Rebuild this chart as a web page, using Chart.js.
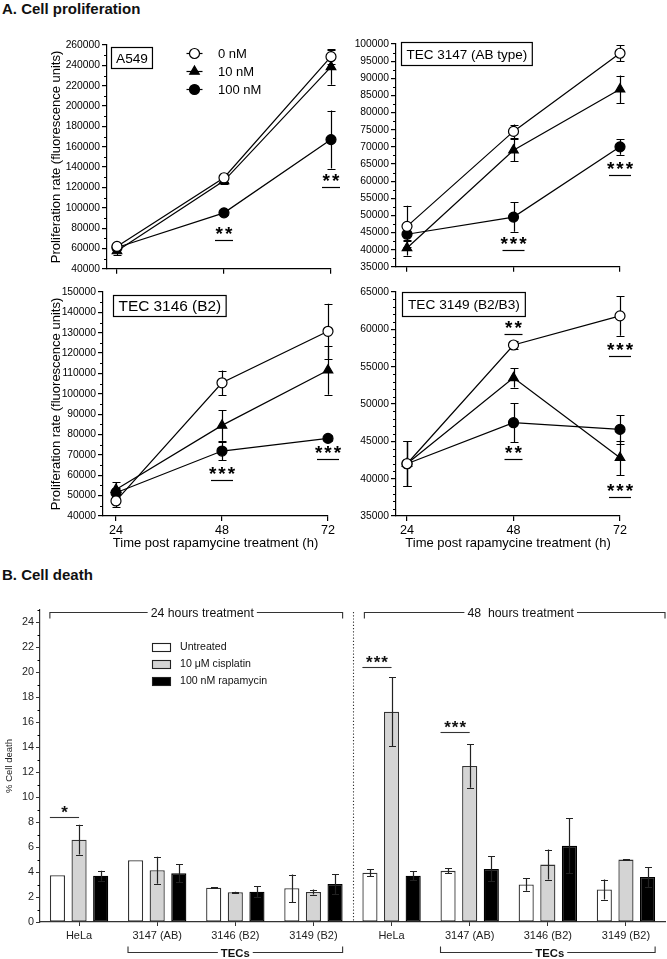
<!DOCTYPE html>
<html>
<head>
<meta charset="utf-8">
<script src="https://cdn.jsdelivr.net/npm/chart.js@4.4.1/dist/chart.umd.min.js"></script>
<style>
  body { margin: 0; background: #fff; width: 667px; height: 959px; position: relative; overflow: hidden;
         font-family: "Liberation Sans", Arial, sans-serif; }
  .head { position: absolute; left: 2px; font-weight: bold; font-size: 15px; color: #111; }
</style>
</head>
<body>
<div class="head" style="top:0px">A. Cell proliferation</div>
<div class="head" style="top:566px">B. Cell death</div>
<script>
// ---- A. proliferation data (fluorescence units) ----
const hours = [24, 48, 72];
const doseLabels = ['0 nM', '10 nM', '100 nM'];

const a549Nm0 = [62000, 129500, 248500];
const a549Nm0Err = [2500, 4000, 7000];
const a549Nm10 = [57500, 126500, 238500];
const a549Nm10Err = [4000, 3000, 17500];
const a549Nm100 = [61000, 95000, 167000];
const a549Nm100Err = [2000, 2500, 28500];
const a549Stars = [[48, 79000, '**'], [72, 131000, '**']];

const tec3147Nm0 = [46800, 74500, 97300];
const tec3147Nm0Err = [6000, 2000, 2300];
const tec3147Nm10 = [40500, 69000, 86800];
const tec3147Nm10Err = [2200, 3200, 4000];
const tec3147Nm100 = [44500, 49500, 70000];
const tec3147Nm100Err = [2000, 4300, 2300];
const tec3147Stars = [[48, 43000, '***'], [72, 65000, '***']];

const tec3146Nm0 = [47400, 105400, 130700];
const tec3146Nm0Err = [3000, 6000, 13500];
const tec3146Nm10 = [53000, 84500, 111600];
const tec3146Nm10Err = [3500, 7500, 12000];
const tec3146Nm100 = [51400, 71900, 78100];
const tec3146Nm100Err = [2500, 4500, 1500];
const tec3146Stars = [[48, 63000, '***'], [72, 73200, '***']];

const tec3149Nm0 = [42000, 57900, 61800];
const tec3149Nm0Err = [3000, 600, 2650];
const tec3149Nm10 = [42000, 53500, 42800];
const tec3149Nm10Err = [3000, 1300, 2300];
const tec3149Nm100 = [42000, 47500, 46600];
const tec3149Nm100Err = [3000, 2600, 1900];
const tec3149Stars = [[48, 60800, '**'], [48, 44100, '**'], [72, 57900, '***'], [72, 39000, '***']];

// ---- B. cell death data (%) ----
const cellLines = ['HeLa', '3147 (AB)', '3146 (B2)', '3149 (B2)', 'HeLa', '3147 (AB)', '3146 (B2)', '3149 (B2)'];
const treatments = ['Untreated', '10 \u03BCM cisplatin', '100 nM rapamycin'];
const untreated = [3.75, 4.95, 2.75, 2.7, 3.95, 4.1, 3.0, 2.6];
const untreatedErr = [0, 0, 0.05, 1.1, 0.3, 0.2, 0.5, 0.8];
const cisplatin = [6.6, 4.15, 2.38, 2.4, 16.85, 12.5, 4.6, 5.0];
const cisplatinErr = [1.2, 1.08, 0.05, 0.2, 2.75, 1.75, 1.2, 0.05];
const rapamycin = [3.7, 3.9, 2.42, 3.05, 3.7, 4.25, 6.1, 3.6];
const rapamycinErr = [0.4, 0.72, 0.45, 0.8, 0.35, 1.0, 2.2, 0.8];
const deathStars = [[0, 8.4, '*'], [4, 20.4, '***'], [5, 15.25, '***']];

const SANS = '"Liberation Sans", Arial, sans-serif';

Chart.defaults.font.family = SANS;
Chart.defaults.color = '#000';
Chart.defaults.animation = false;

function place(id, left, top, w, h) {
    const c = document.createElement('canvas');
    c.id = id;
    c.width = w;
    c.height = h;
    c.style.cssText = `position:absolute;left:${left}px;top:${top}px;width:${w}px;height:${h}px`;
    document.body.appendChild(c);
}

// error bars, from each dataset's "errors" array
function drawErrors(chart, o) {
    const ctx = chart.ctx, ys = chart.scales.y;
    ctx.save();
    ctx.strokeStyle = o.color || '#000';
    ctx.lineWidth = o.width || 1.2;
    chart.data.datasets.forEach((ds, di) => {
        if (!ds.errors) return;
        chart.getDatasetMeta(di).data.forEach((el, i) => {
            const e = ds.errors[i];
            if (!e) return;
            const raw = ds.data[i];
            const v = typeof raw === 'object' ? raw.y : raw;
            const x = Math.round(el.x) + 0.5;
            const hi = ys.getPixelForValue(v + e), lo = ys.getPixelForValue(v - e);
            ctx.beginPath();
            ctx.moveTo(x, hi); ctx.lineTo(x, lo);
            ctx.moveTo(x - o.cap, Math.round(hi) + 0.5); ctx.lineTo(x + o.cap, Math.round(hi) + 0.5);
            ctx.moveTo(x - o.cap, Math.round(lo) + 0.5); ctx.lineTo(x + o.cap, Math.round(lo) + 0.5);
            ctx.stroke();
        });
    });
    ctx.restore();
}

const errorBars = {
    id: 'errorBars',
    beforeDatasetsDraw(chart, args, o) { if (o.under) drawErrors(chart, o); },
    afterDatasetsDraw(chart, args, o) { if (!o.under) drawErrors(chart, o); }
};

const minorTicks = {
    id: 'minorTicks',
    afterDraw(chart, args, o) {
        if (!o.step) return;
        const ys = chart.scales.y, ctx = chart.ctx, x0 = chart.chartArea.left;
        const majors = ys.ticks.map(t => t.value);
        ctx.save();
        ctx.strokeStyle = '#000';
        ctx.lineWidth = 1;
        for (let v = ys.min; v <= ys.max + 1e-9; v += o.step) {
            if (majors.some(m => Math.abs(m - v) < 1e-6)) continue;
            const py = Math.round(ys.getPixelForValue(v)) + 0.5;
            ctx.beginPath(); ctx.moveTo(x0, py); ctx.lineTo(x0 - o.len, py); ctx.stroke();
        }
        ctx.restore();
    }
};

const stars = {
    id: 'stars',
    afterDatasetsDraw(chart, args, o) {
        if (!o.items) return;
        const ctx = chart.ctx, xs = chart.scales.x, ys = chart.scales.y;
        ctx.save();
        ctx.font = 'bold 19px ' + SANS;
        ctx.fillStyle = '#000';
        ctx.strokeStyle = '#000';
        ctx.lineWidth = 1.2;
        ctx.textAlign = 'center';
        ctx.letterSpacing = '2px';
        for (const [xv, yv, txt] of o.items) {
            const px = xs.getPixelForValue(xv), py = ys.getPixelForValue(yv);
            ctx.fillText(txt, px + 1, py + 11);
            const w = txt.length > 2 ? 22 : 18;
            const ly = Math.round(py + 11) + 0.5;
            ctx.beginPath(); ctx.moveTo(px - w / 2, ly); ctx.lineTo(px + w / 2, ly); ctx.stroke();
        }
        ctx.restore();
    }
};

const tag = {
    id: 'tag',
    afterDraw(chart, args, o) {
        if (!o.text) return;
        const ctx = chart.ctx, a = chart.chartArea;
        ctx.save();
        ctx.font = o.size + 'px ' + SANS;
        const w = ctx.measureText(o.text).width + 2 * o.pad;
        const x = Math.round(a.left + o.dx), y = Math.round(a.top + o.dy);
        ctx.fillStyle = '#fff';
        ctx.fillRect(x, y, w, o.h);
        ctx.strokeStyle = '#000';
        ctx.lineWidth = 1.2;
        ctx.strokeRect(x + 0.5, y + 0.5, w, o.h);
        ctx.fillStyle = '#000';
        ctx.textBaseline = 'middle';
        ctx.fillText(o.text, x + o.pad + 0.5, y + o.h / 2 + 1.5);
        ctx.restore();
    }
};

const doseLegend = {
    id: 'doseLegend',
    afterDraw(chart, args, o) {
        if (!o.show) return;
        const ctx = chart.ctx, a = chart.chartArea;
        chart.data.datasets.forEach((ds, i) => {
            const x = a.left + o.dx, y = Math.round(a.top + o.dy + i * o.gap) + 0.5;
            ctx.save();
            ctx.strokeStyle = '#000';
            ctx.lineWidth = 1.2;
            ctx.beginPath(); ctx.moveTo(x - 8, y); ctx.lineTo(x + 8, y); ctx.stroke();
            ctx.fillStyle = ds.pointBackgroundColor;
            Chart.helpers.drawPoint(ctx, {pointStyle: ds.pointStyle, radius: ds.pointRadius, borderWidth: 1.2, rotation: 0}, x, y);
            ctx.fillStyle = '#000';
            ctx.font = '13px ' + SANS;
            ctx.textBaseline = 'middle';
            ctx.fillText(ds.label, a.left + o.tx, y + 1);
            ctx.restore();
        });
    }
};

function pts(vals) {
    return hours.map((h, i) => ({x: h, y: vals[i]}));
}

function doseSets(m0, e0, m10, e10, m100, e100) {
    const base = {borderColor: '#000', borderWidth: 1.2, pointBorderColor: '#000', pointBorderWidth: 1.2,
                  pointRadius: 5, tension: 0, clip: false};
    return [
        {...base, label: doseLabels[0], data: pts(m0), errors: e0, pointStyle: 'circle', pointBackgroundColor: '#fff'},
        {...base, label: doseLabels[1], data: pts(m10), errors: e10, pointStyle: 'triangle', pointBackgroundColor: '#000', pointRadius: 5.5},
        {...base, label: doseLabels[2], data: pts(m100), errors: e100, pointStyle: 'circle', pointBackgroundColor: '#000'}
    ];
}

function lineChart(id, area, o) {
    const cx = area.left - o.yw, cy = area.top - o.pt;
    const w = area.right - cx + o.pr, h = area.bottom - cy + o.xh;
    place(id, cx, cy, w, h);
    return new Chart(id, {
        type: 'line',
        data: {datasets: o.sets},
        options: {
            responsive: false,
            layout: {padding: {top: o.pt, right: o.pr, left: 0, bottom: 0}},
            scales: {
                x: {
                    type: 'linear', min: o.xmin, max: 72,
                    afterBuildTicks: s => { s.ticks = hours.map(v => ({value: v})); },
                    afterFit: s => { s.height = o.xh; },
                    border: {color: '#000', width: 1.2},
                    grid: {drawOnChartArea: false, tickLength: 5, color: '#000', lineWidth: 1.2},
                    ticks: {display: o.bottom, font: {size: 12.6}, color: '#000', padding: 2, maxRotation: 0},
                    title: {display: o.bottom, text: 'Time post rapamycine treatment (h)', font: {size: 13}, color: '#000',
                            padding: {top: 0, bottom: 3}}
                },
                y: {
                    min: o.ymin, max: o.ymax,
                    afterFit: s => { s.width = o.yw; },
                    border: {color: '#000', width: 1.2},
                    grid: {drawOnChartArea: false, tickLength: 5, color: '#000', lineWidth: 1.2},
                    ticks: {stepSize: o.ystep, includeBounds: false, font: {size: 10.3}, color: '#000', padding: 2,
                            callback: v => String(v)},
                    title: {display: o.left, text: 'Proliferation rate (fluorescence units)', font: {size: 13}, color: '#000'}
                }
            },
            plugins: {
                legend: {display: false},
                tooltip: {enabled: false},
                errorBars: {under: true, cap: 4},
                minorTicks: {step: o.minor, len: 3},
                stars: {items: o.stars},
                tag: o.tag,
                doseLegend: o.legend || {show: false}
            }
        },
        plugins: [errorBars, minorTicks, stars, tag, doseLegend]
    });
}

lineChart('a549', {left: 107, top: 45, right: 331, bottom: 269}, {
    yw: 62, pt: 15, pr: 25, xh: 8, xmin: 21.76, ymin: 40000, ymax: 260000, ystep: 20000, minor: 10000,
    bottom: false, left: true, stars: a549Stars,
    sets: doseSets(a549Nm0, a549Nm0Err, a549Nm10, a549Nm10Err, a549Nm100, a549Nm100Err),
    tag: {text: 'A549', size: 13.7, pad: 4.5, dx: 4, dy: 2, h: 21},
    legend: {show: true, dx: 87.5, dy: 8, gap: 18, tx: 111}
});

lineChart('tec3147', {left: 396, top: 44, right: 620, bottom: 267}, {
    yw: 46, pt: 15, pr: 30, xh: 8, xmin: 21.52, ymin: 35000, ymax: 100000, ystep: 5000, minor: 2500,
    bottom: false, left: false, stars: tec3147Stars,
    sets: doseSets(tec3147Nm0, tec3147Nm0Err, tec3147Nm10, tec3147Nm10Err, tec3147Nm100, tec3147Nm100Err),
    tag: {text: 'TEC 3147 (AB type)', size: 13.5, pad: 5, dx: 5, dy: -2, h: 23}
});

lineChart('tec3146', {left: 103, top: 292, right: 328, bottom: 516}, {
    yw: 58, pt: 10, pr: 25, xh: 38, xmin: 21.06, ymin: 40000, ymax: 150000, ystep: 10000, minor: 5000,
    bottom: true, left: true, stars: tec3146Stars,
    sets: doseSets(tec3146Nm0, tec3146Nm0Err, tec3146Nm10, tec3146Nm10Err, tec3146Nm100, tec3146Nm100Err),
    tag: {text: 'TEC 3146 (B2)', size: 15.4, pad: 5, dx: 10, dy: 3, h: 21}
});

lineChart('tec3149', {left: 396, top: 292, right: 620, bottom: 516}, {
    yw: 46, pt: 10, pr: 30, xh: 38, xmin: 21.52, ymin: 35000, ymax: 65000, ystep: 5000, minor: 1000,
    bottom: true, left: false, stars: tec3149Stars,
    sets: doseSets(tec3149Nm0, tec3149Nm0Err, tec3149Nm10, tec3149Nm10Err, tec3149Nm100, tec3149Nm100Err),
    tag: {text: 'TEC 3149 (B2/B3)', size: 13.7, pad: 5.5, dx: 6, dy: 0, h: 24}
});

// ---- B. cell death bar chart ----
const deathNotes = {
    id: 'deathNotes',
    afterDraw(chart) {
        const ctx = chart.ctx, xs = chart.scales.x, ys = chart.scales.y, a = chart.chartArea;
        const m0 = chart.getDatasetMeta(0), m1 = chart.getDatasetMeta(1), m2 = chart.getDatasetMeta(2);
        const leftOf = i => m0.data[i].x - m0.data[i].width / 2;
        const rightOf = i => m2.data[i].x + m2.data[i].width / 2;
        ctx.save();
        ctx.strokeStyle = '#333';
        ctx.fillStyle = '#111';
        ctx.lineWidth = 1.1;

        // dotted separator between the 24 h and 48 h blocks
        const sepX = Math.round((xs.getPixelForValue(3) + xs.getPixelForValue(4)) / 2) + 0.5;
        ctx.setLineDash([1.2, 2]);
        ctx.beginPath(); ctx.moveTo(sepX, a.top + 2); ctx.lineTo(sepX, a.bottom); ctx.stroke();
        ctx.setLineDash([]);

        function bracket(x1, x2, y, dir, text, font, shift) {
            ctx.font = font;
            const tw = ctx.measureText(text).width;
            const tx = (x1 + x2) / 2 + shift;
            y = Math.round(y) + 0.5;
            ctx.beginPath();
            ctx.moveTo(x1, y + dir * 6); ctx.lineTo(x1, y); ctx.lineTo(tx - tw / 2 - 3, y);
            ctx.moveTo(tx + tw / 2 + 3, y); ctx.lineTo(x2, y); ctx.lineTo(x2, y + dir * 6);
            ctx.stroke();
            ctx.textAlign = 'center';
            ctx.textBaseline = 'middle';
            ctx.fillText(text, tx, y + 1);
        }
        bracket(leftOf(0), rightOf(3), a.top + 2, 1, '24 hours treatment', '12.3px ' + SANS, 6);
        bracket(leftOf(4) + 2, a.right, a.top + 2, 1, '48  hours treatment', '12.3px ' + SANS, 6);
        const ty = a.bottom + 30;
        bracket(leftOf(1), rightOf(3), ty, -1, 'TECs', 'bold 11.3px ' + SANS, 0);
        bracket(leftOf(5), rightOf(7), ty, -1, 'TECs', 'bold 11.3px ' + SANS, 2);

        // significance marks
        ctx.font = 'bold 17px ' + SANS;
        ctx.letterSpacing = '1px';
        ctx.textBaseline = 'alphabetic';
        for (const [i, v, txt] of deathStars) {
            const x1 = leftOf(i), x2 = m1.data[i].x;
            const y = Math.round(ys.getPixelForValue(v)) + 0.5;
            ctx.beginPath(); ctx.moveTo(x1, y); ctx.lineTo(x2, y); ctx.stroke();
            ctx.fillText(txt, (x1 + x2) / 2 + 0.5, y);
        }
        ctx.letterSpacing = '0px';

        // legend
        ctx.font = '10.6px ' + SANS;
        ctx.textAlign = 'left';
        ctx.textBaseline = 'middle';
        chart.data.datasets.forEach((ds, i) => {
            const bx = a.left + 112, by = Math.round(a.top + 37 + i * 17);
            ctx.fillStyle = ds.backgroundColor;
            ctx.fillRect(bx, by - 4, 18, 8);
            ctx.strokeStyle = '#222';
            ctx.strokeRect(bx + 0.5, by - 4 + 0.5, 18, 8);
            ctx.fillStyle = '#111';
            ctx.fillText(ds.label, bx + 28, by + 0.5);
        });
        ctx.restore();
    }
};

place('death', 0, 598, 667, 361);
new Chart('death', {
    type: 'bar',
    data: {
        labels: cellLines,
        datasets: [
            {label: treatments[0], data: untreated, errors: untreatedErr, backgroundColor: '#fff', borderColor: '#333'},
            {label: treatments[1], data: cisplatin, errors: cisplatinErr, backgroundColor: '#d4d4d4', borderColor: '#333'},
            {label: treatments[2], data: rapamycin, errors: rapamycinErr, backgroundColor: '#000', borderColor: '#000'}
        ]
    },
    options: {
        responsive: false,
        layout: {padding: {top: 12, right: 2, left: 0, bottom: 0}},
        datasets: {bar: {categoryPercentage: 0.83, barPercentage: 0.7, borderWidth: 1.3, borderSkipped: false}},
        scales: {
            x: {
                afterFit: s => { s.height = 37; },
                border: {color: '#333', width: 1.2},
                grid: {offset: false, drawOnChartArea: false, tickLength: 4, color: '#333'},
                ticks: {font: {size: 11}, color: '#222', padding: 3, maxRotation: 0, autoSkip: false}
            },
            y: {
                min: 0, max: 25,
                afterFit: s => { s.width = 40; },
                border: {color: '#333', width: 1.2},
                grid: {drawOnChartArea: false, tickLength: 4, color: '#333'},
                ticks: {stepSize: 2, includeBounds: false, font: {size: 10.8}, color: '#222', padding: 2},
                title: {display: true, text: '% Cell death', font: {size: 9.5}, color: '#222'}
            }
        },
        plugins: {
            legend: {display: false},
            tooltip: {enabled: false},
            errorBars: {under: false, cap: 3.5, color: '#222', width: 1.2},
            minorTicks: {step: 1, len: 2.5}
        }
    },
    plugins: [errorBars, minorTicks, deathNotes]
});
</script>
</body>
</html>
